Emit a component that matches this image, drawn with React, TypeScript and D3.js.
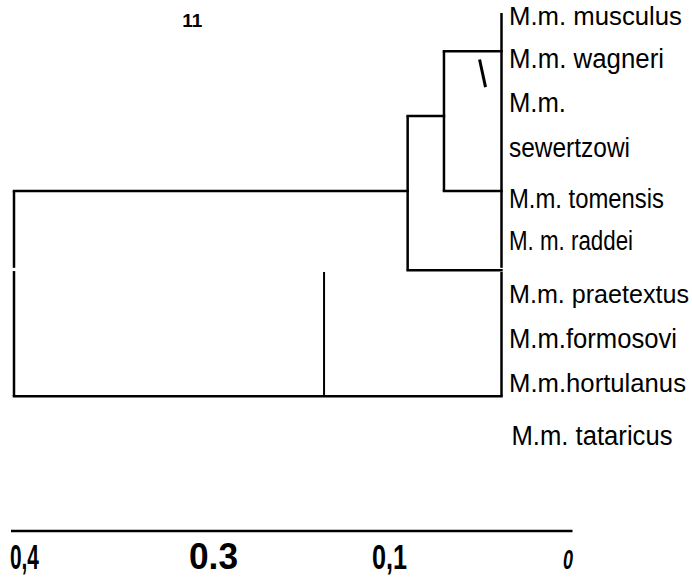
import React from "react";
import * as d3 from "d3";

// ---- data ----
const leafNames = [
  "M.m. musculus",
  "M.m. wagneri",
  "M.m.",
  "sewertzowi",
  "M.m. tomensis",
  "M. m. raddei",
  "M.m. praetextus",
  "M.m.formosovi",
  "M.m.hortulanus",
  "M.m. tataricus",
];
// label baselines in row units
const leafRows = [0.26, 1.2, 2.15, 3.12, 4.24, 5.15, 6.3, 7.28, 8.23, 9.39];
// label widths
const leafWidths = [173, 155, 57, 121, 155, 124, 180, 168, 177, 161];
const leafSizes = [26, 27, 27, 27, 27, 27, 25, 27, 26, 27];
const leafOffsets = [0, 0, 0, 0, 0, 0, 0, 0, 0, 2.5];

// dendrogram branches: [distance1, row1, distance2, row2]
const branches: [number, number, number, number][] = [
  [0, 0, 0, 5.54],
  [0.0472, 0.83, 0, 0.83],
  [0.0472, 0.83, 0.0472, 3.87],
  [0.0472, 3.87, 0, 3.87],
  [0.077, 2.24, 0.0472, 2.24],
  [0.077, 2.24, 0.077, 5.59],
  [0.077, 5.59, 0, 5.59],
  [0.4, 3.87, 0.077, 3.87],
  [0.4, 3.87, 0.4, 5.54],
  [0.4, 5.61, 0.4, 8.33],
  [0.4, 8.33, 0, 8.33],
  [0, 5.63, 0, 8.33],
  [0.1456, 5.63, 0.1456, 8.33],
];
const slashMark: [number, number, number, number] = [0.018, 1.01, 0.0131, 1.61];
const nodeNote = { text: "11", distance: 0.2538, row: 0.31 };

const axisLabels = ["0,4", "0.3", "0,1", "0"];
const axisLabelPos = [-0.002, 0.317, 0.643, 0.983];
const axisLabelWidths = [29, 49, 35, 10];
const axisLabelSizes = [35, 36, 35, 27];

export default function App() {
  const W = 692;
  const H = 577;
  const x = d3.scaleLinear().domain([0.4, 0]).range([14, 501.5]);
  const y = d3.scaleLinear().domain([0, 10]).range([13, 473]);
  const ax = d3.scaleLinear().domain([0, 1]).range([11, 572.5]);
  const axisY = 531;
  const font = "'Liberation Sans', Arial, sans-serif";

  return (
    <svg
      width={W}
      height={H}
      viewBox={`0 0 ${W} ${H}`}
      style={{ position: "absolute", left: 0, top: 0, background: "#fff" }}
    >
      <rect width={W} height={H} fill="#fff" />
      <g stroke="#000" fill="none">
        {branches.map((b, i) => {
          const vertical = b[0] === b[2];
          const thin = b[0] === 0.1456;
          return (
            <line
              key={i}
              x1={x(b[0])}
              y1={y(b[1])}
              x2={x(b[2])}
              y2={y(b[3])}
              strokeWidth={thin ? 2 : 2.5}
              strokeLinecap={vertical ? "butt" : "square"}
            />
          );
        })}
        <line
          x1={x(slashMark[0])}
          y1={y(slashMark[1])}
          x2={x(slashMark[2])}
          y2={y(slashMark[3])}
          strokeWidth={3}
        />
        <line x1={ax(0)} x2={ax(1)} y1={axisY} y2={axisY} strokeWidth={2.5} />
      </g>
      <text
        x={x(nodeNote.distance)}
        y={y(nodeNote.row)}
        textAnchor="middle"
        fontFamily={font}
        fontWeight="bold"
        fontSize={19}
      >
        {nodeNote.text}
      </text>
      {leafNames.map((n, i) => (
        <text
          key={n}
          x={x(0) + 7.5 + leafOffsets[i]}
          y={y(leafRows[i])}
          fontFamily={font}
          fontSize={leafSizes[i]}
          textLength={leafWidths[i]}
          lengthAdjust="spacingAndGlyphs"
          fill="#000"
        >
          {n}
        </text>
      ))}
      {axisLabels.map((t, i) => (
        <text
          key={t}
          x={ax(axisLabelPos[i])}
          y={569}
          fontFamily={font}
          fontWeight="bold"
          fontStyle={i === 3 ? "italic" : "normal"}
          fontSize={axisLabelSizes[i]}
          textLength={axisLabelWidths[i]}
          lengthAdjust="spacingAndGlyphs"
          fill="#000"
        >
          {t}
        </text>
      ))}
    </svg>
  );
}
